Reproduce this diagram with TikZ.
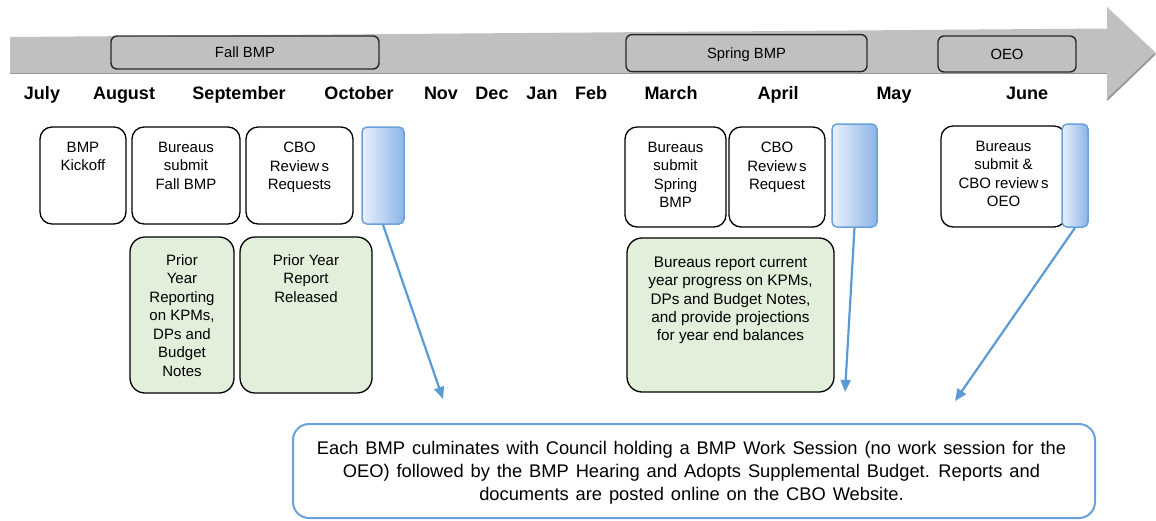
\documentclass[tikz,border=0pt]{standalone}
\usepackage{fontspec}
\setmainfont{Liberation Sans}
\usetikzlibrary{arrows.meta}
\definecolor{bandgray}{RGB}{192,192,192}
\definecolor{bandshadow}{RGB}{150,150,150}
\definecolor{boxline}{RGB}{40,40,40}
\definecolor{greenfill}{RGB}{226,239,218}
\definecolor{bluearrow}{RGB}{91,155,213}
\definecolor{blueline}{RGB}{108,160,218}
\definecolor{bluelight}{RGB}{234,241,251}
\definecolor{bluedark}{RGB}{140,180,232}
\tikzset{
  tlbox/.style={draw=boxline, line width=1.4pt, rounded corners=6pt, fill=bandgray, inner sep=0pt},
  tllabel/.style={font=\fontsize{14.8}{17}\selectfont, inner sep=0pt, text height=10.6pt, text depth=0pt},
  month/.style={font=\bfseries\fontsize{18}{20}\selectfont, inner sep=0pt, anchor=base},
  wbox/.style={draw=black, line width=1.3pt, rounded corners=12pt, fill=white, inner sep=0pt},
  gbox/.style={draw=black, line width=1.3pt, rounded corners=15pt, fill=greenfill, inner sep=0pt},
  bbox/.style={draw=blueline, line width=1.5pt, rounded corners=5pt, left color=bluelight, right color=bluedark, inner sep=0pt},
  finalbox/.style={draw=blueline, line width=2pt, rounded corners=16pt, fill=white, inner sep=0pt},
  btxt/.style={font=\fontsize{15}{18.5}\selectfont, align=center, inner sep=0pt, anchor=north},
  gtxt/.style={font=\fontsize{15.3}{18.2}\selectfont, align=center, inner sep=0pt, anchor=north},
  ftxt/.style={font=\fontsize{18.3}{22.7}\selectfont, align=center, inner sep=0pt, anchor=north},
  barrow/.style={draw=bluearrow, line width=2.2pt, -{Triangle[length=12pt,width=10pt]}}
}
\begin{document}
\begin{tikzpicture}[x=1pt,y=-1pt]
\useasboundingbox (0,0) rectangle (1156,520);
% timeline band with arrow head
\fill[bandgray] (10,37) -- (1107,28.5) -- (1107,7) -- (1156,53) -- (1107,100) -- (1107,73) -- (10,73) -- cycle;
\draw[bandshadow, line width=1.5pt] (10,73.3) -- (1107,73.3);
\draw[bandshadow, line width=1.8pt] (1155,54) -- (1107,100);
% timeline boxes
\node[tlbox, minimum width=268pt, minimum height=33pt] (fall) at (245,52.5) {};
\node[tllabel] (fallL) at (fall.center) {Fall BMP};
\node[tlbox, minimum width=241pt, minimum height=37pt] (spring) at (746.5,53.1) {};
\node[tllabel] (springL) at (spring.center) {Spring BMP};
\node[tlbox, minimum width=138pt, minimum height=36pt] (oeo) at (1007,54) {};
\node[tllabel] (oeoL) at (oeo.center) {OEO};
% months
\node[month] (jul) at (42,99.5) {July};
\node[month] (aug) at (124,99.5) {August};
\node[month] (sep) at (239,99.5) {September};
\node[month] (oct) at (359,99.5) {October};
\node[month] (nov) at (441,99.5) {Nov};
\node[month] (dec) at (492,99.5) {Dec};
\node[month] (jan) at (542,99.5) {Jan};
\node[month] (feb) at (591,99.5) {Feb};
\node[month] (mar) at (671,99.5) {March};
\node[month] (apr) at (778,99.5) {April};
\node[month] (may) at (894,99.5) {May};
\node[month] (jun) at (1027,99.5) {June};
% fall row
\node[wbox, minimum width=86pt, minimum height=97pt] (kick) at (83,175.5) {};
\node[btxt] (kickT) at ([yshift=-15.6pt]kick.north) {BMP\\Kickoff};
\node[wbox, minimum width=108pt, minimum height=97pt] (fallsub) at (186,175.5) {};
\node[btxt] (fallsubT) at ([yshift=-15.6pt]fallsub.north) {Bureaus\\submit\\Fall BMP};
\node[wbox, minimum width=107pt, minimum height=97pt] (cborev) at (299.5,175.5) {};
\node[btxt] (cborevT) at ([yshift=-15.6pt]cborev.north) {CBO\\Review\,s\\Requests};
\node[bbox, minimum width=42pt, minimum height=97pt] (fallblue) at (383,175.5) {};
\node[gbox, minimum width=104pt, minimum height=156pt] (g1) at (182,315) {};
\node[btxt] (g1T) at ([yshift=-17.6pt]g1.north) {Prior\\Year\\Reporting\\on KPMs,\\DPs and\\Budget\\Notes};
\node[gbox, minimum width=132pt, minimum height=156pt] (g2) at (306,315) {};
\node[btxt] (g2T) at ([yshift=-17.6pt]g2.north) {Prior Year\\Report\\Released};
% spring row
\node[wbox, minimum width=101pt, minimum height=100pt] (springsub) at (675.5,177) {};
\node[btxt] (springsubT) at ([yshift=-15.6pt]springsub.north) {Bureaus\\submit\\Spring\\BMP};
\node[wbox, minimum width=96pt, minimum height=100pt] (cborev2) at (777,177) {};
\node[btxt] (cborev2T) at ([yshift=-15.6pt]cborev2.north) {CBO\\Review\,s\\Request};
\node[bbox, minimum width=45pt, minimum height=103pt] (springblue) at (854.5,175.5) {};
\node[gbox, minimum width=207pt, minimum height=154pt] (g3) at (730.5,315) {};
\node[gtxt] (g3T) at ([yshift=-19.6pt]g3.north) {Bureaus report current\\year progress on KPMs,\\DPs and Budget Notes,\\and provide projections\\for year end balances};
% OEO row
\node[wbox, minimum width=125pt, minimum height=101pt] (oeobox) at (1003.5,176.5) {};
\node[btxt] (oeoT) at ([yshift=-15.6pt]oeobox.north) {Bureaus\\submit \&\\CBO review\,s\\OEO};
\node[bbox, minimum width=26pt, minimum height=103pt] (oeoblue) at (1075,175.5) {};
% final box
\node[finalbox, minimum width=802pt, minimum height=94pt] (final) at (694,471) {};
\node[ftxt, execute at begin node={\spaceskip=6.9pt\relax}] (finalT) at ([xshift=-2.5pt,yshift=-18.3pt]final.north) {Each BMP culminates with Council holding a BMP Work Session (no work session for the\\OEO) followed by the BMP Hearing and Adopts Supplemental Budget. Reports and\\documents are posted online on the CBO Website.};
% arrows
\coordinate (a1end) at (443,399);
\coordinate (a2end) at (845,392);
\coordinate (a3end) at (955,401);
\draw[barrow] (fallblue.south) -- (a1end);
\draw[barrow] (springblue.south) -- (a2end);
\draw[barrow] (oeoblue.south) -- (a3end);
\end{tikzpicture}
\end{document}
